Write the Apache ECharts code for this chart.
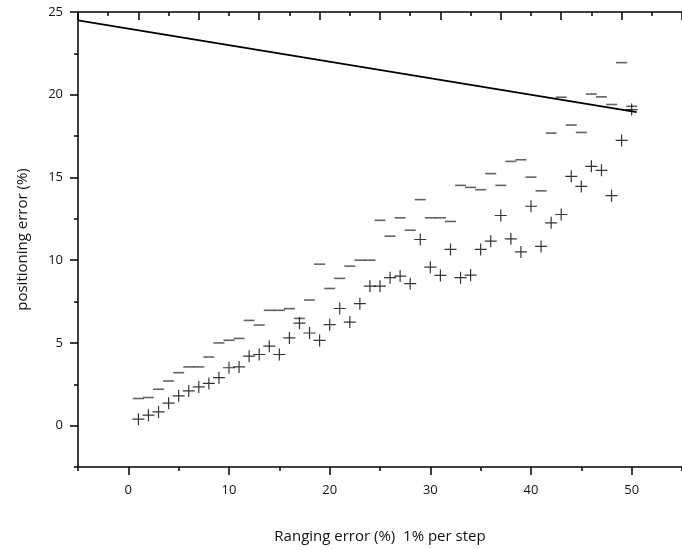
<!DOCTYPE html>
<html>
<head>
<meta charset="utf-8">
<script src="https://cdn.jsdelivr.net/npm/echarts@6/dist/echarts.min.js"></script>
<style>html,body{margin:0;padding:0;background:#fff}#c{width:682px;height:549px}</style>
</head>
<body>
<div id="c"></div>
<script>
var steps = [1,2,3,4,5,6,7,8,9,10,11,12,13,14,15,16,17,18,19,20,21,22,23,24,25,26,27,28,29,30,31,32,33,34,35,36,37,38,39,40,41,42,43,44,45,46,47,48,49,50];
var upperErr = [1.64,1.70,2.2,2.7,3.2,3.55,3.55,4.15,5.0,5.16,5.27,6.36,6.08,6.97,6.97,7.07,6.48,7.59,9.76,8.29,8.9,9.64,10.0,10.0,12.41,11.45,12.56,11.81,13.66,12.56,12.56,12.34,14.52,14.4,14.26,15.23,14.52,15.97,16.07,15.02,14.19,17.68,19.85,18.17,17.72,20.04,19.87,19.41,21.94,19.3];
var lowerErr = [0.39,0.63,0.83,1.36,1.8,2.1,2.34,2.55,2.9,3.5,3.55,4.2,4.3,4.8,4.3,5.3,6.2,5.6,5.15,6.1,7.08,6.26,7.37,8.43,8.43,8.94,9.04,8.58,11.25,9.58,9.08,10.65,8.94,9.1,10.65,11.15,12.7,11.29,10.5,13.26,10.83,12.26,12.76,15.07,14.46,15.67,15.43,13.9,17.24,19.1];
var lineX = [-5, 50.5];
var lineY = [24.5, 18.95];
var xLabels = [0,10,20,30,40,50];
var yLabels = [0,5,10,15,20,25];

var font = '"Open Sans", "Noto Sans", sans-serif';
var plusPath = 'path://M5.4,0H6.6V5.4H12V6.6H6.6V12H5.4V6.6H0V5.4H5.4Z';

function pairs(xs, ys){ return xs.map(function(x,i){ return [x, ys[i]]; }); }

var chart = echarts.init(document.getElementById('c'));
chart.setOption({
  animation: false,
  backgroundColor: '#fff',
  grid: { left: 78, top: 12, right: -10, bottom: 81, containLabel: false },
  xAxis: [
    { type: 'value', position: 'bottom', min: -5, max: 55,
      name: 'Ranging error (%)  1% per step', nameLocation: 'middle', nameGap: 62,
      nameTextStyle: { fontFamily: font, fontSize: 15, color: '#111', letterSpacing: 1.8 },
      axisLine: { show: true, onZero: false, lineStyle: { color: '#000', width: 1.5 } },
      axisTick: { show: true, inside: false, length: 8, customValues: xLabels, lineStyle: { color: '#000', width: 1.5 } },
      axisLabel: { show: true, customValues: xLabels, margin: 17, fontFamily: font, fontSize: 13, color: '#111', letterSpacing: 1 },
      splitLine: { show: false } },
    { type: 'value', position: 'bottom', min: -5, max: 55, interval: 5,
      axisLine: { show: false, onZero: false },
      axisTick: { show: true, inside: false, length: 4, lineStyle: { color: '#000', width: 1.5 } },
      axisLabel: { show: false }, splitLine: { show: false } },
    { type: 'value', position: 'top', min: 0, max: 20, interval: 2,
      axisLine: { show: true, onZero: false, lineStyle: { color: '#000', width: 1.5 } },
      axisTick: { show: true, inside: true, length: 8, lineStyle: { color: '#000', width: 1.5 } },
      minorTick: { show: true, splitNumber: 2, length: 4, lineStyle: { color: '#000', width: 1.5 } },
      axisLabel: { show: false }, splitLine: { show: false } }
  ],
  yAxis: [
    { type: 'value', position: 'left', min: -2.5, max: 25,
      name: 'positioning error (%)', nameLocation: 'middle', nameGap: 48,
      nameTextStyle: { fontFamily: font, fontSize: 15, color: '#111', letterSpacing: 1.8 },
      axisLine: { show: true, onZero: false, lineStyle: { color: '#000', width: 1.5 } },
      axisTick: { show: true, inside: false, length: 8, customValues: yLabels, lineStyle: { color: '#000', width: 1.5 } },
      axisLabel: { show: true, customValues: yLabels, margin: 15, fontFamily: font, fontSize: 13, color: '#111', letterSpacing: 1 },
      splitLine: { show: false } },
    { type: 'value', position: 'left', min: -2.5, max: 25, interval: 2.5,
      axisLine: { show: false, onZero: false },
      axisTick: { show: true, inside: false, length: 4, lineStyle: { color: '#000', width: 1.5 } },
      axisLabel: { show: false }, splitLine: { show: false } }
  ],
  series: [
    { type: 'line', xAxisIndex: 0, yAxisIndex: 0, data: pairs(lineX, lineY),
      symbol: 'none', lineStyle: { color: '#000', width: 1.8 }, z: 3 },
    { type: 'scatter', xAxisIndex: 0, yAxisIndex: 0, data: pairs(steps, upperErr),
      symbol: 'rect', symbolSize: [11, 1.6], itemStyle: { color: '#3c3c3c' }, z: 4 },
    { type: 'scatter', xAxisIndex: 0, yAxisIndex: 0, data: pairs(steps, lowerErr),
      symbol: plusPath, symbolSize: 12, itemStyle: { color: '#000' }, z: 5 }
  ]
});
</script>
</body>
</html>
